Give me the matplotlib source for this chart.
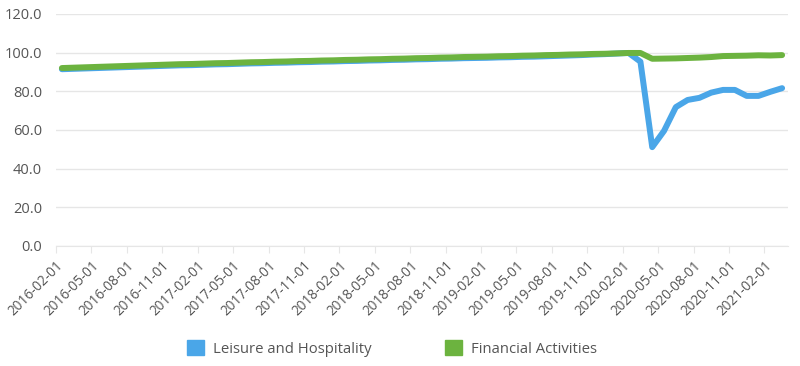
import matplotlib
matplotlib.use("Agg")
import matplotlib.pyplot as plt
from matplotlib.patches import Patch

plt.rcParams['font.family'] = ['Open Sans', 'DejaVu Sans']

# monthly dates, 2016-02 .. 2021-03
months = []
for y in range(2016, 2022):
    for m in range(1, 13):
        if (y == 2016 and m < 2) or (y == 2021 and m > 3):
            continue
        months.append("%d-%02d-01" % (y, m))

leisure = [
    91.4, 91.6, 91.8, 92.0, 92.2, 92.4, 92.6, 92.8, 93.0, 93.2, 93.4,
    93.5, 93.7, 93.9, 94.0, 94.2, 94.4, 94.5, 94.7, 94.8, 95.0, 95.1, 95.3,
    95.4, 95.6, 95.7, 95.9, 96.0, 96.2, 96.3, 96.5, 96.6, 96.8, 96.9, 97.1,
    97.2, 97.3, 97.5, 97.6, 97.8, 97.9, 98.1, 98.3, 98.5, 98.7, 99.0, 99.2,
    99.5, 99.8, 95.3, 51.1, 59.5, 71.8, 75.5, 76.6, 79.3, 80.7, 80.7, 77.6,
    77.6, 79.7, 81.6,
]
financial = [
    92.0, 92.2, 92.4, 92.6, 92.8, 93.0, 93.2, 93.4, 93.6, 93.8, 94.0,
    94.1, 94.3, 94.5, 94.6, 94.8, 95.0, 95.1, 95.3, 95.4, 95.6, 95.7, 95.9,
    96.0, 96.2, 96.3, 96.5, 96.6, 96.8, 96.9, 97.1, 97.2, 97.4, 97.5, 97.7,
    97.8, 97.9, 98.1, 98.2, 98.4, 98.5, 98.7, 98.8, 99.0, 99.1, 99.3, 99.4,
    99.6, 99.8, 99.8, 96.8, 96.9, 97.0, 97.2, 97.4, 97.7, 98.2, 98.3, 98.4,
    98.6, 98.5, 98.7,
]

blue = "#4aa6e8"
green = "#6cb33f"
txt = "#555555"
gridc = "#e6e6e6"

fig = plt.figure(figsize=(8, 3.66), dpi=100)
ax = fig.add_axes([0.07, 0.328, 0.915, 0.634])

x = [i + 0.5 for i in range(len(months))]
ax.plot(x, leisure, color=blue, lw=4.3, solid_capstyle='round', solid_joinstyle='round', zorder=3)
ax.plot(x, financial, color=green, lw=4.3, solid_capstyle='round', solid_joinstyle='round', zorder=4)

ax.set_xlim(0, len(months))
ax.set_ylim(0, 120)
ax.set_yticks(range(0, 121, 20))
ax.set_yticklabels(["%.1f" % v for v in range(0, 121, 20)], color=txt, fontsize=10.5)
ax.yaxis.grid(True, color=gridc, lw=1)
ax.set_axisbelow(True)

ticks = list(range(0, len(months), 3))
ax.set_xticks(ticks)
ax.set_xticklabels([months[i] for i in ticks], rotation=45, ha='right',
                   rotation_mode='anchor', color=txt, fontsize=9.8)
ax.tick_params(axis='y', length=0, pad=10)
ax.tick_params(axis='x', length=5, color=gridc, pad=4)

for s in ['top', 'right', 'left']:
    ax.spines[s].set_visible(False)
ax.spines['bottom'].set_color(gridc)

handles = [Patch(color=blue, label="Leisure and Hospitality"),
           Patch(color=green, label="Financial Activities")]
leg = fig.legend(handles=handles, loc='center', bbox_to_anchor=(0.49, 0.048), ncol=2,
                 frameon=False, fontsize=10.7, handlelength=1.1, handleheight=1.1,
                 columnspacing=5.0, handletextpad=0.6)
for t in leg.get_texts():
    t.set_color(txt)

fig.savefig("out.png", dpi=100)
